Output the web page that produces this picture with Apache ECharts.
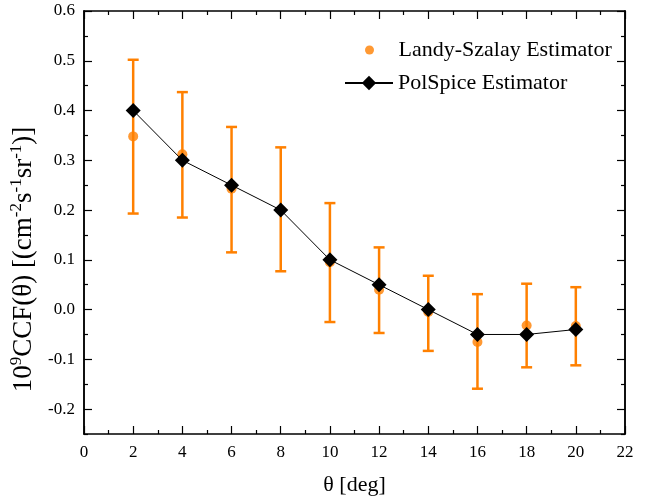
<!DOCTYPE html>
<html><head><meta charset="utf-8">
<script src="https://cdn.jsdelivr.net/npm/echarts@6/dist/echarts.min.js"></script>
<style>html,body{margin:0;padding:0;background:#fff}#c{width:645px;height:502px}</style>
</head><body><div id="c"></div>
<script>
var theta = [2, 4, 6, 8, 10, 12, 14, 16, 18, 20];
var lsValues = [0.348, 0.312, 0.243, 0.200, 0.095, 0.040, -0.005, -0.065, -0.032, -0.033];
var lsUpper = [0.502, 0.437, 0.367, 0.326, 0.214, 0.125, 0.068, 0.031, 0.052, 0.045];
var lsLower = [0.193, 0.185, 0.115, 0.077, -0.025, -0.047, -0.083, -0.159, -0.116, -0.112];
var psValues = [0.40, 0.30, 0.25, 0.20, 0.10, 0.05, 0.00, -0.05, -0.05, -0.04];
var yMajor = [-0.2, -0.1, 0.0, 0.1, 0.2, 0.3, 0.4, 0.5, 0.6];
var yMinor = [-0.25, -0.15, -0.05, 0.05, 0.15, 0.25, 0.35, 0.45, 0.55];

var FONT = 'Liberation Serif';
var ORANGE = '#FF8000';
var chart = echarts.init(document.getElementById('c'));

function yAx(pos, labels, ticks, len) {
  return {
    type: 'value', position: pos, min: -0.25, max: 0.6,
    axisLine: {show: true, onZero: false, lineStyle: {color: '#000', width: 1.5}},
    axisTick: {show: true, inside: true, length: len, customValues: ticks, lineStyle: {color: '#000', width: 1.2}},
    axisLabel: {show: labels, customValues: yMajor, formatter: function (v) { return v.toFixed(1); },
      fontFamily: FONT, fontSize: 17, color: '#000', margin: 9},
    splitLine: {show: false}
  };
}
var yAxes = [yAx('left', true, yMajor, 8), yAx('left', false, yMinor, 4), yAx('right', false, yMajor, 8), yAx('right', false, yMinor, 4)];
yAxes[0].name = '{n|10}{s|9}{n|CCF(θ) [(cm}{s|-2}{n|s}{s|-1}{n|sr}{s|-1}{n|)]}';
yAxes[0].nameLocation = 'middle';
yAxes[0].nameRotate = 90;
yAxes[0].nameGap = 47;
yAxes[0].nameTextStyle = {fontFamily: FONT, color: '#000', padding: [0, 74, 0, 0], rich: {
  n: {fontFamily: FONT, fontSize: 27, color: '#000', verticalAlign: 'bottom'},
  s: {fontFamily: FONT, fontSize: 17, color: '#000', verticalAlign: 'top', padding: [0, 0, 12, 0]}
}};

function xAx(pos, labels) {
  return {
    type: 'value', position: pos, min: 0, max: 22, interval: 2,
    axisLine: {show: true, onZero: false, lineStyle: {color: '#000', width: 1.5}},
    axisTick: {show: true, inside: true, length: 8, lineStyle: {color: '#000', width: 1.2}},
    minorTick: {show: true, splitNumber: 2, length: 4, lineStyle: {color: '#000', width: 1.2}},
    axisLabel: {show: labels, fontFamily: FONT, fontSize: 17, color: '#000', margin: 10},
    splitLine: {show: false}, minorSplitLine: {show: false}
  };
}
var xAxes = [xAx('bottom', true), xAx('top', false)];
xAxes[0].name = 'θ [deg]';
xAxes[0].nameLocation = 'middle';
xAxes[0].nameGap = 40;
xAxes[0].nameTextStyle = {fontFamily: FONT, fontSize: 22, color: '#000'};

var errData = theta.map(function (t, i) { return [t, lsLower[i], lsUpper[i]]; });

chart.setOption({
  animation: false,
  backgroundColor: '#fff',
  grid: {left: 83, right: 20, top: 11, bottom: 68},
  xAxis: xAxes,
  yAxis: yAxes,
  legend: [{
    orient: 'vertical', left: 360, top: 34, itemGap: 7, itemWidth: 48, itemHeight: 9,
    textStyle: {fontFamily: FONT, fontSize: 22, color: '#000'},
    data: [{name: 'Landy-Szalay Estimator', icon: 'circle', itemStyle: {color: ORANGE}}]
  }, {
    orient: 'vertical', left: 339, top: 67, itemWidth: 48, itemHeight: 18,
    textStyle: {fontFamily: FONT, fontSize: 22, color: '#000'},
    data: [{name: 'PolSpice Estimator'}]
  }],
  series: [
    {
      name: 'errors', type: 'custom', xAxisIndex: 0, yAxisIndex: 0, z: 2,
      data: errData,
      encode: {x: 0, y: [1, 2]},
      renderItem: function (params, api) {
        var x = api.value(0);
        var lo = api.coord([x, api.value(1)]);
        var hi = api.coord([x, api.value(2)]);
        var w = 5.5;
        var st = {stroke: ORANGE, lineWidth: 2.5};
        return {type: 'group', children: [
          {type: 'line', shape: {x1: lo[0], y1: lo[1], x2: hi[0], y2: hi[1]}, style: st},
          {type: 'line', shape: {x1: lo[0] - w, y1: lo[1], x2: lo[0] + w, y2: lo[1]}, style: st},
          {type: 'line', shape: {x1: hi[0] - w, y1: hi[1], x2: hi[0] + w, y2: hi[1]}, style: st}
        ]};
      }
    },
    {
      name: 'Landy-Szalay Estimator', type: 'scatter', z: 3,
      data: theta.map(function (t, i) { return [t, lsValues[i]]; }),
      symbol: 'circle', symbolSize: 10, itemStyle: {color: ORANGE}
    },
    {
      name: 'PolSpice Estimator', type: 'line', z: 4,
      data: theta.map(function (t, i) { return [t, psValues[i]]; }),
      symbol: 'diamond', symbolSize: 15, showSymbol: true,
      lineStyle: {color: '#000', width: 1}, itemStyle: {color: '#000'}
    }
  ]
});
</script>
</body></html>
